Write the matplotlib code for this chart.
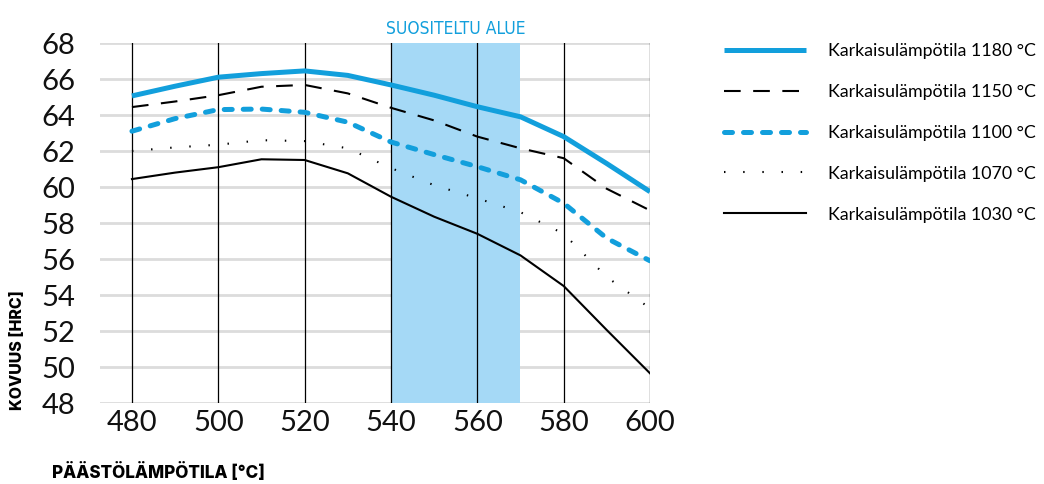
import matplotlib.pyplot as plt

# tempering temperature (°C)
temps = [480, 490, 500, 510, 520, 530, 540, 550, 560, 570, 580, 590, 600]

# hardness HRC per hardening temperature
hrc_1180 = [65.06, 65.6, 66.1, 66.3, 66.45, 66.2, 65.67, 65.1, 64.46, 63.9, 62.8, 61.3, 59.74]
hrc_1150 = [64.44, 64.75, 65.1, 65.57, 65.67, 65.2, 64.4, 63.7, 62.8, 62.15, 61.6, 59.9, 58.7]
hrc_1100 = [63.1, 63.8, 64.3, 64.33, 64.15, 63.6, 62.5, 61.8, 61.13, 60.4, 59.1, 57.15, 55.9]
hrc_1070 = [62.0, 62.2, 62.35, 62.6, 62.55, 62.15, 61.05, 60.1, 59.37, 58.6, 57.4, 55.0, 53.26]
hrc_1030 = [60.44, 60.8, 61.1, 61.54, 61.5, 60.76, 59.46, 58.35, 57.4, 56.2, 54.5, 52.05, 49.65]

labels = ["Karkaisulämpötila 1180 °C", "Karkaisulämpötila 1150 °C",
          "Karkaisulämpötila 1100 °C", "Karkaisulämpötila 1070 °C",
          "Karkaisulämpötila 1030 °C"]
xticks = [480, 500, 520, 540, 560, 580, 600]
yticks = list(range(48, 69, 2))
zone = (540, 570)

BLUE = "#129fdc"
SHADE = "#a5d9f6"

W, H = 1044, 484
fig = plt.figure(figsize=(W / 100, H / 100), dpi=100)
ax = fig.add_axes([100 / W, 1 - 403 / H, 550 / W, 360 / H])
ax.set_xlim(472.6, 600)
ax.set_ylim(48, 68)
for s in ax.spines.values():
    s.set_visible(False)

for y in yticks:
    ax.axhline(y, color="#dcdcdc", lw=2, zorder=0)
ax.axvspan(*zone, color=SHADE, lw=0, zorder=1)
for x in xticks:
    ax.axvline(x, color="black", lw=0.9, zorder=2)

ax.plot(temps, hrc_1180, color=BLUE, lw=3.6, solid_capstyle="butt", zorder=5, label=labels[0])
ax.plot(temps, hrc_1150, color="black", lw=1.5, dashes=(8, 6), zorder=4, label=labels[1])
ax.plot(temps, hrc_1100, color=BLUE, lw=3.6, dashes=(1.6, 2.2), dash_capstyle="round",
        zorder=4, label=labels[2])
ax.plot(temps, hrc_1070, color="black", lw=1.5, dashes=(0.7, 8.5), zorder=4, label=labels[3])
ax.plot(temps, hrc_1030, color="black", lw=1.5, zorder=4, label=labels[4])

tick_font = dict(family="Lato", weight="normal", size=21)
ax.set_xticks(xticks)
ax.set_yticks(yticks)
ax.set_xticklabels([str(t) for t in xticks], **tick_font)
ax.set_yticklabels([str(t) for t in yticks], **tick_font)
ax.tick_params(length=0, colors="#111111")
ax.tick_params(axis="x", pad=5)
ax.tick_params(axis="y", pad=18)

ax.text(555, 68.3, "SUOSITELTU ALUE", color=BLUE, ha="center", va="bottom",
        fontsize=12.5, family="DejaVu Sans", fontstretch="condensed", clip_on=False)

fig.text(18 / W, 1 - 350 / H, "KOVUUS [HRC]", rotation=90, ha="center", va="center",
         fontsize=11.5, weight="heavy", family="Inter")
fig.text(52 / W, 1 - 472 / H, "PÄÄSTÖLÄMPÖTILA [°C]", ha="left", va="center",
         fontsize=12.3, weight="heavy", family="Inter")

leg = ax.legend(loc="upper left", bbox_to_anchor=(708 / W, 1 - 27 / H),
                bbox_transform=fig.transFigure, frameon=False, handlelength=4.6,
                handletextpad=1.25, labelspacing=1.4,
                prop=dict(family="Lato", size=12.8))

fig.savefig("out.png", dpi=100)
